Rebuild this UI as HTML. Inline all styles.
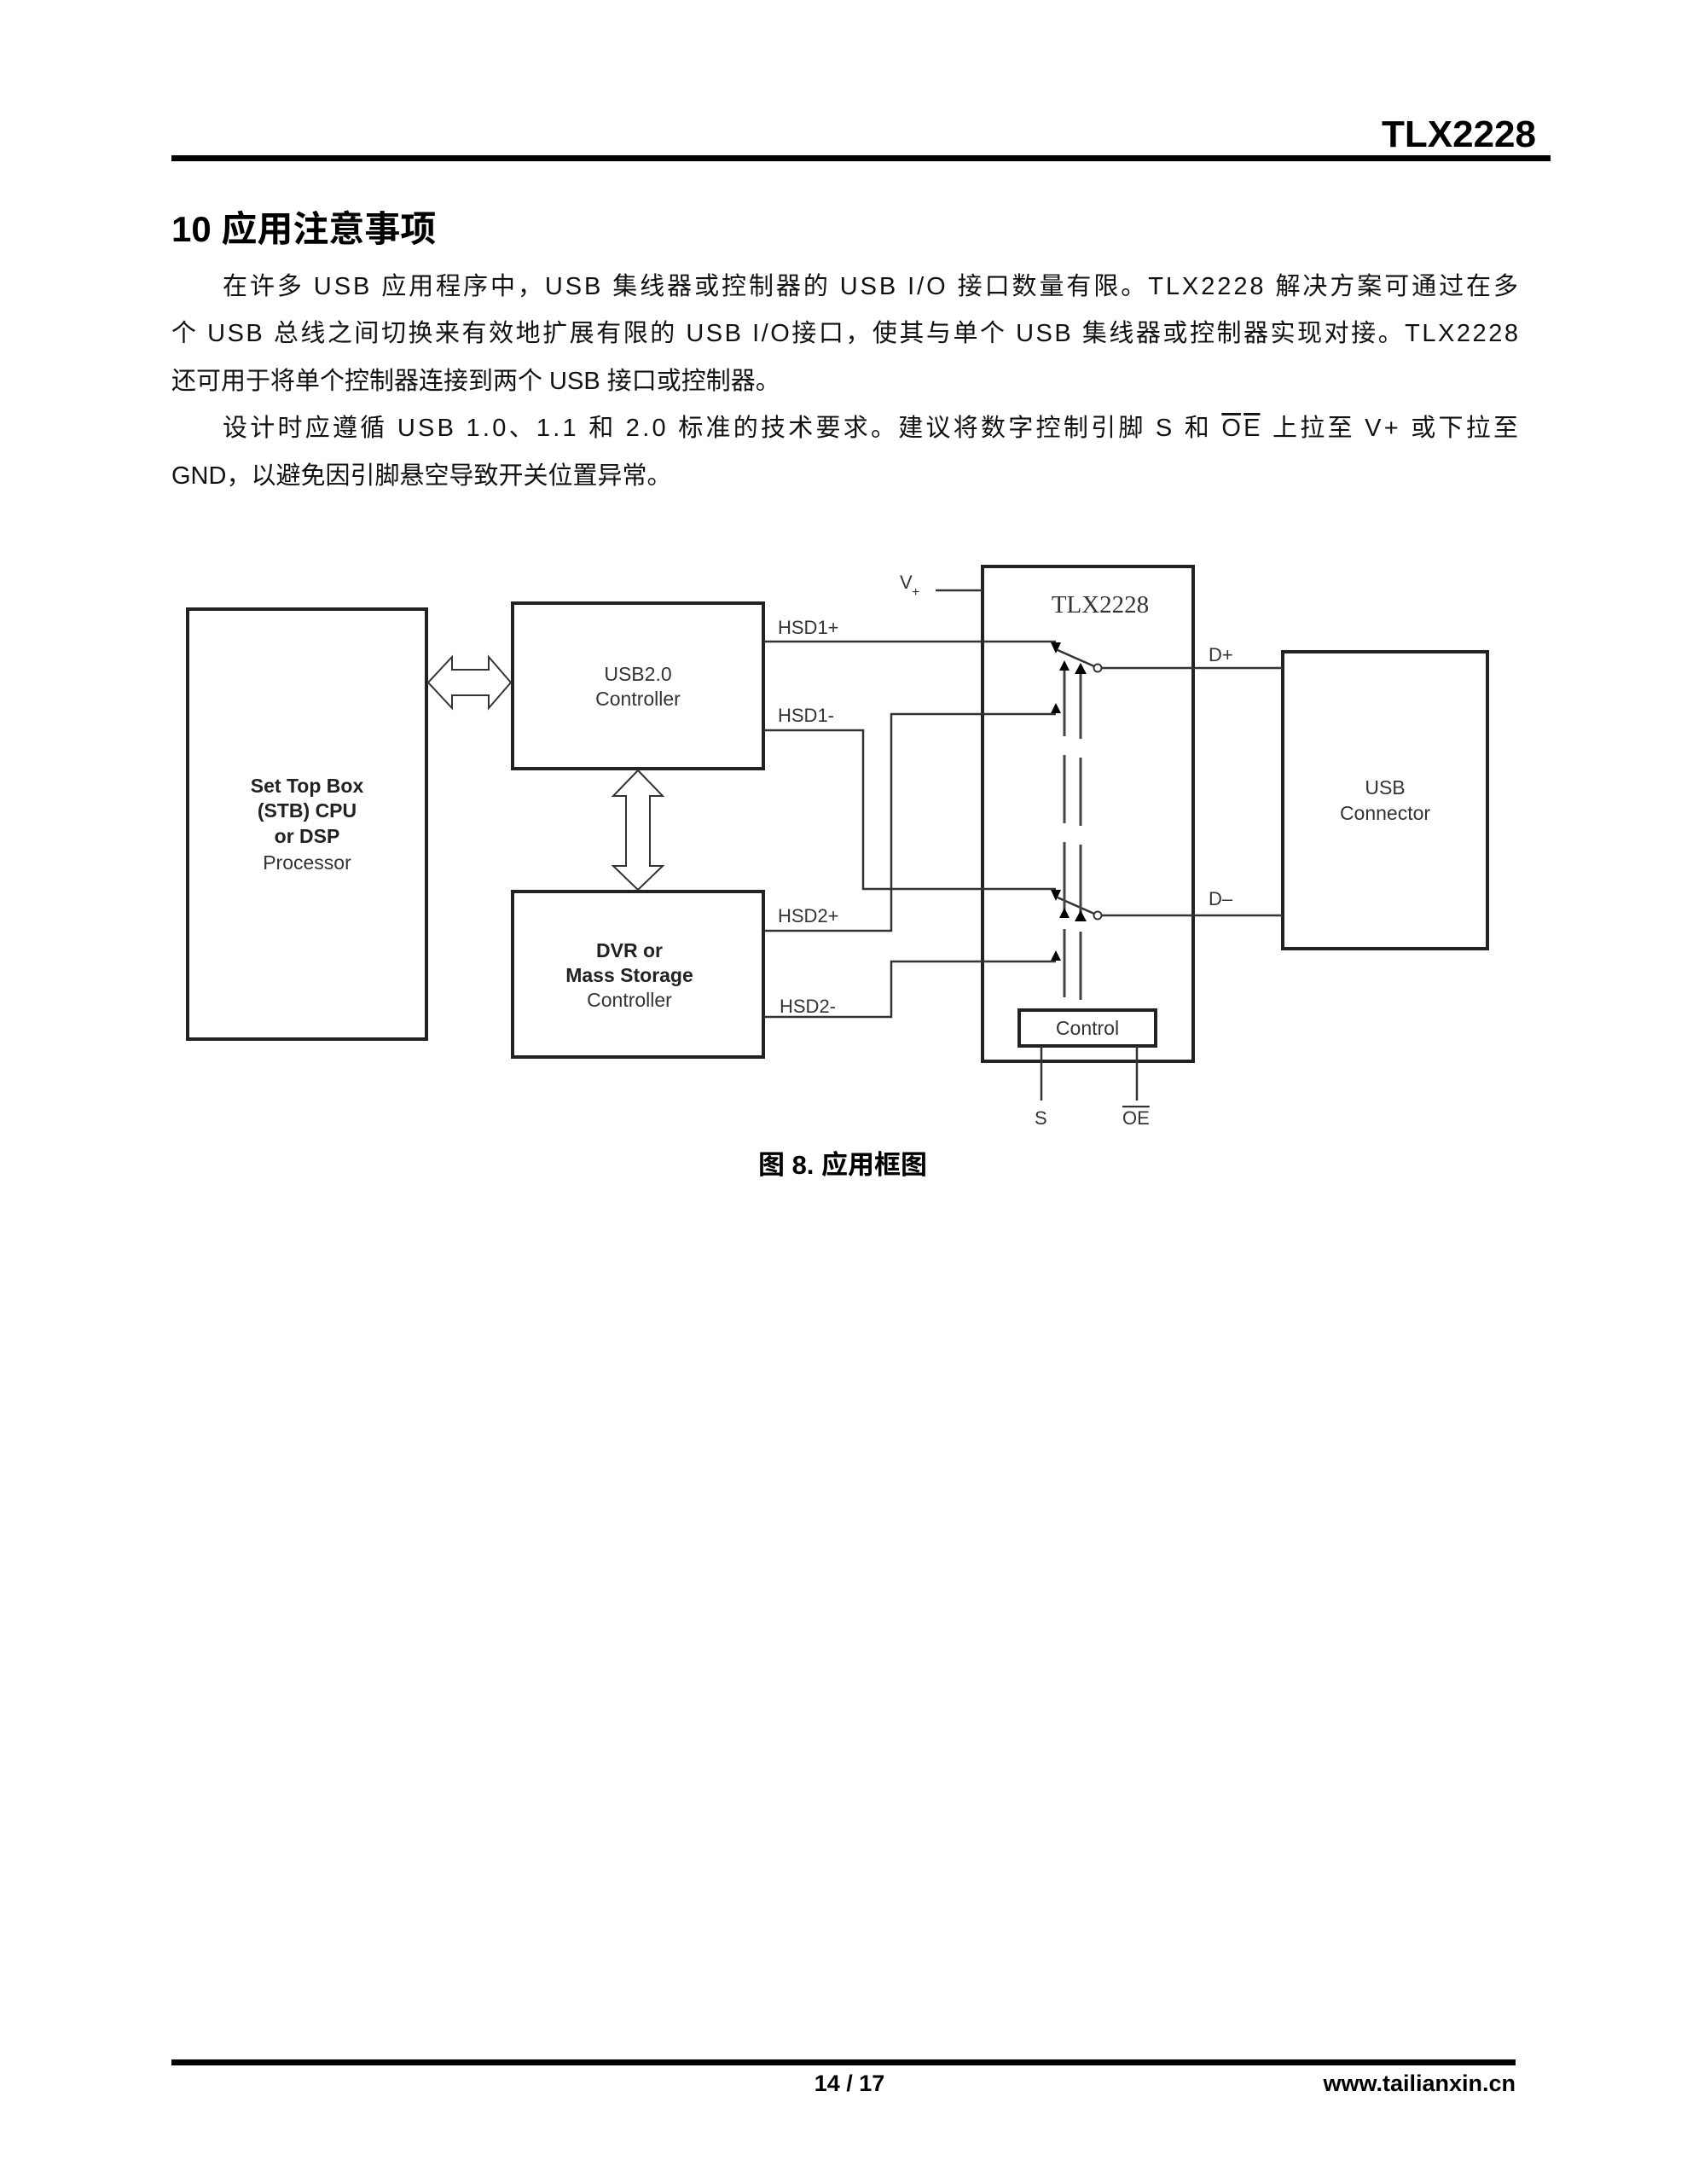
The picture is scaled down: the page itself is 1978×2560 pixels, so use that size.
<!DOCTYPE html>
<html><head><meta charset="utf-8"><style>
html,body{margin:0;padding:0;background:#fff}
svg{display:block}
.cn{font-family:"Liberation Sans","Noto Sans CJK SC",sans-serif}
.ar{font-family:"Liberation Sans",sans-serif}
</style></head><body>
<svg width="1978" height="2560" viewBox="0 0 1978 2560" xmlns="http://www.w3.org/2000/svg">
<rect width="1978" height="2560" fill="#fff"/>
<!-- header -->
<text x="1801" y="172" text-anchor="end" class="ar" font-weight="bold" font-size="44">TLX2228</text>
<rect x="201" y="182" width="1617" height="7" fill="#000"/>
<!-- heading -->
<text x="201" y="283" class="cn" font-weight="bold" font-size="42">10 应用注意事项</text>
<g class="cn" font-size="29" fill="#111">
<text x="261" y="345" textLength="1519" lengthAdjust="spacing">在许多 USB 应用程序中，USB 集线器或控制器的 USB I/O 接口数量有限。TLX2228  解决方案可通过在多</text>
<text x="201" y="400" textLength="1579" lengthAdjust="spacing">个 USB 总线之间切换来有效地扩展有限的 USB I/O接口，使其与单个 USB 集线器或控制器实现对接。TLX2228</text>
<text x="201" y="456">还可用于将单个控制器连接到两个 USB 接口或控制器。</text>
<text x="261" y="511" textLength="1519" lengthAdjust="spacing">设计时应遵循 USB 1.0、1.1 和 2.0 标准的技术要求。建议将数字控制引脚 S 和 <tspan text-decoration="overline">OE</tspan> 上拉至 V+ 或下拉至</text>
<text x="201" y="567">GND，以避免因引脚悬空导致开关位置异常。</text>
</g>

<!-- diagram -->
<g fill="none" stroke="#222" stroke-width="4">
<rect x="220" y="714" width="280" height="504"/>
<rect x="601" y="707" width="294" height="194"/>
<rect x="601" y="1045" width="294" height="194"/>
<rect x="1152" y="664" width="247" height="580"/>
<rect x="1504" y="764" width="240" height="348"/>
<rect x="1195" y="1184" width="160" height="42"/>
</g>
<!-- double arrows -->
<polygon points="502,800 530,770 530,785 573,785 573,770 599,800 573,830 573,815 530,815 530,830" fill="#fff" stroke="#333" stroke-width="2"/>
<polygon points="748,903 777,933 762,933 762,1015 777,1015 748,1043 719,1015 734,1015 734,933 719,933" fill="#fff" stroke="#333" stroke-width="2"/>
<!-- signal lines -->
<g fill="none" stroke="#333" stroke-width="2.5">
<polyline points="895,752 1238,752"/>
<polyline points="895,856 1012,856 1012,1042 1238,1042"/>
<polyline points="895,1091 1045,1091 1045,837 1238,837"/>
<polyline points="895,1192 1045,1192 1045,1127 1238,1127"/>
<line x1="1291" y1="783" x2="1504" y2="783"/>
<line x1="1291" y1="1073" x2="1504" y2="1073"/>
<line x1="1097" y1="692" x2="1152" y2="692"/>
<line x1="1221" y1="1226" x2="1221" y2="1290"/>
<line x1="1333" y1="1226" x2="1333" y2="1290"/>
<line x1="1240" y1="762" x2="1283" y2="781"/>
<line x1="1240" y1="1052" x2="1283" y2="1071"/>
</g>
<circle cx="1287" cy="783" r="4.5" fill="#fff" stroke="#333" stroke-width="2"/>
<circle cx="1287" cy="1073" r="4.5" fill="#fff" stroke="#333" stroke-width="2"/>
<!-- control dashed lines -->
<g stroke="#444" stroke-width="3" stroke-dasharray="80,22">
<line x1="1248" y1="783" x2="1248" y2="1184"/>
<line x1="1267" y1="786" x2="1267" y2="1184"/>
</g>
<!-- triangles -->
<g fill="#000">
<polygon points="1232,753 1244,753 1238,766"/>
<polygon points="1232,1043 1244,1043 1238,1056"/>
<polygon points="1232,836 1244,836 1238,824"/>
<polygon points="1232,1126 1244,1126 1238,1114"/>
<polygon points="1242,786 1254,786 1248,774"/>
<polygon points="1260,790 1274,790 1267,777"/>
<polygon points="1242,1076 1254,1076 1248,1064"/>
<polygon points="1260,1080 1274,1080 1267,1067"/>
</g>
<!-- labels -->
<g class="ar" fill="#333" font-size="22">
<text x="912" y="743">HSD1+</text>
<text x="912" y="846">HSD1-</text>
<text x="912" y="1081">HSD2+</text>
<text x="914" y="1187">HSD2-</text>
<text x="1417" y="775">D+</text>
<text x="1417" y="1061">D–</text>
<text x="1055" y="690" font-size="22">V</text><text x="1069" y="699" font-size="16">+</text>
<text x="1213" y="1318">S</text>
<text x="1316" y="1318" text-decoration="overline">OE</text>
</g>
<text x="1290" y="718" text-anchor="middle" font-family="'Liberation Serif',serif" font-size="29" fill="#333">TLX2228</text>
<g class="ar" text-anchor="middle" fill="#333" font-size="23">
<text x="748" y="798">USB2.0</text>
<text x="748" y="827">Controller</text>
<text x="1624" y="931">USB</text>
<text x="1624" y="961">Connector</text>
<text x="1275" y="1213">Control</text>
<text x="360" y="1019">Processor</text>
<text x="738" y="1180">Controller</text>
</g>
<g class="ar" text-anchor="middle" fill="#222" font-size="23" font-weight="bold">
<text x="360" y="929">Set Top Box</text>
<text x="360" y="958">(STB) CPU</text>
<text x="360" y="988">or DSP</text>
<text x="738" y="1122">DVR or</text>
<text x="738" y="1151">Mass Storage</text>
</g>
<text x="988" y="1376" text-anchor="middle" class="cn" font-weight="bold" font-size="31">图 8. 应用框图</text>
<!-- footer -->
<rect x="201" y="2414" width="1576" height="7" fill="#000"/>
<text x="996" y="2451" text-anchor="middle" class="ar" font-weight="bold" font-size="27">14 / 17</text>
<text x="1777" y="2451" text-anchor="end" class="ar" font-weight="bold" font-size="27">www.tailianxin.cn</text>
</svg>
</body></html>
